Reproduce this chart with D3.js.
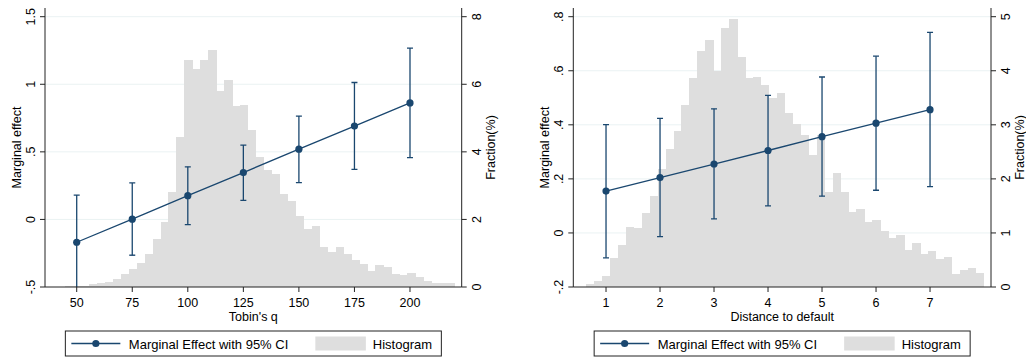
<!DOCTYPE html>
<html><head><meta charset="utf-8">
<script src="https://cdn.jsdelivr.net/npm/d3@7"></script>
<style>
body { margin: 0; background: #fff; }
svg { display: block; font-family: "Liberation Sans", Arial, Helvetica, sans-serif; }
</style></head><body>
<svg id="chart" width="1026" height="360"></svg>
<script>
// Left panel: Tobin's q
const tobinQ = [50, 75, 100, 125, 150, 175, 200];
const tobinEffect = [-0.169, 0.002, 0.176, 0.347, 0.520, 0.691, 0.862];
const tobinLower = [-0.52, -0.265, -0.039, 0.141, 0.273, 0.371, 0.458];
const tobinUpper = [0.180, 0.270, 0.389, 0.550, 0.765, 1.013, 1.268];
const tobinBinStart = 44.73, tobinBinWidth = 3.582;
const tobinHist = [
  0.02, 0.03, 0.04, 0.08, 0.11, 0.14, 0.23, 0.39, 0.54, 0.70,
  0.97, 1.42, 1.91, 2.81, 4.45, 6.73, 6.46, 6.73, 7.02, 5.81,
  6.13, 5.35, 5.40, 4.65, 3.86, 3.47, 3.34, 2.76, 2.55, 2.10,
  1.72, 1.81, 1.18, 1.05, 1.19, 0.97, 0.80, 0.68, 0.48, 0.65,
  0.58, 0.39, 0.35, 0.40, 0.29, 0.19, 0.13, 0.13, 0.11];
const tobinYTicks = [-0.5, 0, 0.5, 1, 1.5];
const tobinYLabels = ['-.5', '0', '.5', '1', '1.5'];
const tobinFracTicks = [0, 2, 4, 6, 8];

// Right panel: Distance to default
const dtd = [1, 2, 3, 4, 5, 6, 7];
const dtdEffect = [0.155, 0.205, 0.255, 0.305, 0.356, 0.406, 0.456];
const dtdLower = [-0.092, -0.014, 0.052, 0.100, 0.136, 0.158, 0.171];
const dtdUpper = [0.401, 0.424, 0.459, 0.509, 0.577, 0.654, 0.742];
const dtdBinStart = 0.63, dtdBinWidth = 0.1473;
const dtdHist = [
  0.05, 0.11, 0.20, 0.53, 0.78, 1.11, 1.09, 1.37, 1.69, 2.18,
  2.55, 2.88, 3.36, 3.87, 4.36, 4.57, 4.00, 4.79, 4.96, 4.26,
  3.87, 3.88, 3.74, 3.50, 3.59, 3.22, 3.02, 2.82, 2.45, 2.82,
  1.76, 2.10, 1.76, 1.38, 1.45, 1.21, 1.24, 1.03, 0.90, 0.97,
  0.69, 0.82, 0.61, 0.66, 0.51, 0.56, 0.24, 0.32, 0.36, 0.26];
const dtdYTicks = [-0.2, 0, 0.2, 0.4, 0.6, 0.8];
const dtdYLabels = ['-.2', '0', '.2', '.4', '.6', '.8'];
const dtdFracTicks = [0, 1, 2, 3, 4, 5];

const NAVY = '#1a476f';
const HIST = '#dedede';
const GRID = '#eaf2f3';
const AXIS = '#222';
const FONT = 12.5;     // axis labels and titles
const LEG_FONT = 13;   // legend entries

const svg = d3.select('#chart');

function drawPanel(id, o) {
  const top = 8, bottom = 287, yTop = 16.7;
  const g = svg.append('g');
  const x = d3.scaleLinear().domain(o.xDomain).range([o.left, o.right]);
  const y = d3.scaleLinear().domain([o.yTicks[0], o.yTicks[o.yTicks.length - 1]]).range([bottom, yTop]);
  const y2 = d3.scaleLinear().domain([0, o.fracTicks[o.fracTicks.length - 1]]).range([bottom, yTop]);

  g.append('clipPath').attr('id', id)
    .append('rect').attr('x', o.left).attr('y', top)
    .attr('width', o.right - o.left).attr('height', bottom - top);

  // gridlines
  g.append('g').selectAll('line').data(o.yTicks.slice(1)).join('line')
    .attr('x1', o.left).attr('x2', o.right)
    .attr('y1', (d) => y(d)).attr('y2', (d) => y(d))
    .attr('stroke', GRID).attr('stroke-width', 1);

  // histogram
  g.append('g').attr('shape-rendering', 'crispEdges')
    .selectAll('rect').data(o.hist).join('rect')
    .attr('x', (d, i) => x(o.binStart + i * o.binWidth))
    .attr('width', (d, i) => x(o.binStart + (i + 1) * o.binWidth) - x(o.binStart + i * o.binWidth) + 0.4)
    .attr('y', (d) => y2(d))
    .attr('height', (d) => bottom - y2(d))
    .attr('fill', HIST);

  // marginal effect with CI
  const pts = o.xs.map((v, i) => ({ x: v, m: o.eff[i], lo: o.lo[i], hi: o.hi[i] }));
  const me = g.append('g').attr('clip-path', `url(#${id})`);
  me.selectAll('line.ci').data(pts).join('line').attr('class', 'ci')
    .attr('x1', (d) => x(d.x)).attr('x2', (d) => x(d.x))
    .attr('y1', (d) => y(d.lo)).attr('y2', (d) => y(d.hi))
    .attr('stroke', NAVY).attr('stroke-width', 1.3);
  ['lo', 'hi'].forEach((k) => {
    me.selectAll(`line.cap-${k}`).data(pts).join('line').attr('class', `cap-${k}`)
      .attr('x1', (d) => x(d.x) - 3).attr('x2', (d) => x(d.x) + 3)
      .attr('y1', (d) => y(d[k])).attr('y2', (d) => y(d[k]))
      .attr('stroke', NAVY).attr('stroke-width', 1.3);
  });
  me.append('path').datum(pts)
    .attr('d', d3.line().x((d) => x(d.x)).y((d) => y(d.m)))
    .attr('fill', 'none').attr('stroke', NAVY).attr('stroke-width', 1.3);
  me.selectAll('circle').data(pts).join('circle')
    .attr('cx', (d) => x(d.x)).attr('cy', (d) => y(d.m)).attr('r', 3.6)
    .attr('fill', NAVY);

  // axes lines
  g.append('line').attr('x1', o.left).attr('x2', o.left).attr('y1', top).attr('y2', bottom)
    .attr('stroke', AXIS).attr('stroke-width', 1);
  g.append('line').attr('x1', o.right).attr('x2', o.right).attr('y1', top).attr('y2', bottom)
    .attr('stroke', AXIS).attr('stroke-width', 1);
  g.append('line').attr('x1', o.left).attr('x2', o.right).attr('y1', bottom).attr('y2', bottom)
    .attr('stroke', AXIS).attr('stroke-width', 1);

  // left y ticks
  const ly = g.append('g').selectAll('g').data(o.yTicks).join('g');
  ly.append('line').attr('x1', o.left - 5).attr('x2', o.left)
    .attr('y1', (d) => y(d)).attr('y2', (d) => y(d)).attr('stroke', AXIS);
  ly.append('text')
    .attr('transform', (d) => `translate(${o.left - 10},${y(d)}) rotate(-90)`)
    .attr('text-anchor', 'middle').attr('font-size', FONT)
    .text((d, i) => o.yLabels[i]);

  // right y ticks
  const ry = g.append('g').selectAll('g').data(o.fracTicks).join('g');
  ry.append('line').attr('x1', o.right).attr('x2', o.right + 5)
    .attr('y1', (d) => y2(d)).attr('y2', (d) => y2(d)).attr('stroke', AXIS);
  ry.append('text')
    .attr('transform', (d) => `translate(${o.right + 19},${y2(d)}) rotate(-90)`)
    .attr('text-anchor', 'middle').attr('font-size', FONT)
    .text((d) => d);

  // x ticks
  const xt = g.append('g').selectAll('g').data(o.xs).join('g');
  xt.append('line').attr('x1', (d) => x(d)).attr('x2', (d) => x(d))
    .attr('y1', bottom).attr('y2', bottom + 5).attr('stroke', AXIS);
  xt.append('text').attr('x', (d) => x(d)).attr('y', 306.5)
    .attr('text-anchor', 'middle').attr('font-size', FONT)
    .text((d) => d);

  // titles
  const cx = (o.left + o.right) / 2;
  const cy = (top + bottom) / 2;
  g.append('text').attr('x', cx).attr('y', 321).attr('text-anchor', 'middle')
    .attr('font-size', FONT).text(o.xTitle);
  g.append('text').attr('transform', `translate(${o.left - 24},${cy}) rotate(-90)`)
    .attr('text-anchor', 'middle').attr('font-size', FONT).text('Marginal effect');
  g.append('text').attr('transform', `translate(${o.right + 33},${cy}) rotate(-90)`)
    .attr('text-anchor', 'middle').attr('font-size', FONT).text('Fraction(%)');

  // legend
  const lw = 376, lx = cx - lw / 2, ly0 = 331;
  const lg = g.append('g');
  lg.append('rect').attr('x', lx).attr('y', ly0).attr('width', lw).attr('height', 25)
    .attr('fill', '#fff').attr('stroke', AXIS).attr('stroke-width', 1);
  lg.append('line').attr('x1', lx + 6).attr('x2', lx + 55).attr('y1', ly0 + 12.5).attr('y2', ly0 + 12.5)
    .attr('stroke', NAVY).attr('stroke-width', 1.3);
  lg.append('circle').attr('cx', lx + 30.5).attr('cy', ly0 + 12.5).attr('r', 3.6).attr('fill', NAVY);
  lg.append('text').attr('x', lx + 63.5).attr('y', ly0 + 17.5).attr('font-size', LEG_FONT)
    .text('Marginal Effect with 95% CI');
  lg.append('rect').attr('x', lx + 250).attr('y', ly0 + 5.5).attr('width', 50.5).attr('height', 14)
    .attr('fill', HIST);
  lg.append('text').attr('x', lx + 307.5).attr('y', ly0 + 17.5).attr('font-size', LEG_FONT)
    .text('Histogram');
}

drawPanel('clipL', {
  left: 45, right: 461.7, xDomain: [35.73, 223.27],
  xs: tobinQ, eff: tobinEffect, lo: tobinLower, hi: tobinUpper,
  hist: tobinHist, binStart: tobinBinStart, binWidth: tobinBinWidth,
  yTicks: tobinYTicks, yLabels: tobinYLabels, fracTicks: tobinFracTicks,
  xTitle: "Tobin's q",
});

drawPanel('clipR', {
  left: 573.3, right: 991, xDomain: [0.394, 8.129],
  xs: dtd, eff: dtdEffect, lo: dtdLower, hi: dtdUpper,
  hist: dtdHist, binStart: dtdBinStart, binWidth: dtdBinWidth,
  yTicks: dtdYTicks, yLabels: dtdYLabels, fracTicks: dtdFracTicks,
  xTitle: 'Distance to default',
});
</script>
</body></html>
